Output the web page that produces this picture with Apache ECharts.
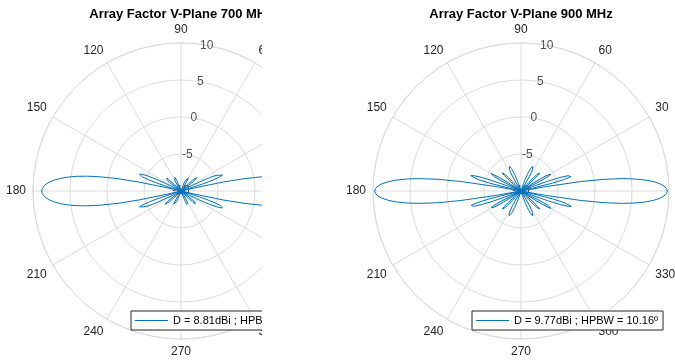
<!DOCTYPE html>
<html>
<head>
<meta charset="utf-8">
<script src="https://cdn.jsdelivr.net/npm/echarts@6/dist/echarts.min.js"></script>
<style>
  html, body { margin: 0; padding: 0; background: #ffffff; }
  #chart { width: 675px; height: 363px; }
</style>
</head>
<body>
<div id="chart"></div>
<script>
// Elevation angles (deg) of one quadrant, 0 = broadside
const quadrantAngles = [
  0, 1, 2, 3, 4, 5, 6, 7, 8, 9, 10, 11, 12, 13, 14, 15, 16, 17, 18, 19,
  20, 21, 22, 23, 24, 25, 26, 27, 28, 29, 30, 31, 32, 33, 34, 35, 36, 37, 38, 39,
  40, 41, 42, 43, 44, 45, 46, 47, 48, 49, 50, 51, 52, 53, 54, 55, 56, 57, 58, 59,
  60, 61, 62, 63, 64, 65, 66, 67, 68, 69, 70, 71, 72, 73, 74, 75, 76, 77, 78, 79,
  80, 81, 82, 83, 84, 85, 86, 87, 88, 89, 90
];

// Gain (dBi) at 700 MHz, floor of the radial axis is -10
const gain700 = [
  8.81, 8.75, 8.55, 8.22, 7.75, 7.14, 6.37, 5.42, 4.24, 2.8,
  1.0, -1.2, -4.1, -8.1, -10, -10, -10, -9.5, -6.9, -5.4,
  -4.45, -4.0, -3.95, -4.2, -4.8, -5.7, -7.0, -8.8, -10, -10,
  -10, -10, -10, -10, -10, -10, -9.2, -8.3, -7.7, -7.35,
  -7.2, -7.2, -7.4, -7.9, -8.6, -9.5, -10, -10, -10, -10,
  -10, -10, -10, -10, -10, -10, -10, -10, -9.3, -8.7,
  -8.3, -8.0, -7.85, -7.8, -7.8, -7.85, -8.0, -8.2, -8.5, -8.9,
  -9.4, -10, -10, -10, -10, -10, -10, -10, -10, -10,
  -10, -10, -10, -10, -10, -10, -10, -10, -10, -10, -10
];

// Gain (dBi) at 900 MHz
const gain900 = [
  9.77, 9.66, 9.34, 8.79, 7.99, 6.92, 5.52, 3.72, 1.37, -1.84,
  -6.6, -10, -10, -9.1, -5.6, -3.9, -3.0, -2.9, -3.3, -4.3,
  -6.0, -8.5, -10, -10, -10, -10, -9.8, -7.4, -6.0, -5.4,
  -5.3, -5.7, -6.6, -8.0, -9.9, -10, -10, -10, -10, -10,
  -10, -8.8, -7.6, -6.9, -6.5, -6.6, -6.9, -7.6, -8.8, -10,
  -10, -10, -10, -10, -10, -10, -10, -10, -9.9, -8.6,
  -7.7, -7.1, -6.7, -6.45, -6.3, -6.3, -6.4, -6.7, -7.1, -7.6,
  -8.3, -8.9, -9.7, -10, -10, -10, -10, -10, -10, -10,
  -10, -10, -10, -10, -10, -10, -10, -10, -10, -10, -10
];

const titles = ['Array Factor V-Plane 700 MHz', 'Array Factor V-Plane 900 MHz'];
const legendTexts = ['D = 8.81dBi ; HPBW = 13.06º', 'D = 9.77dBi ; HPBW = 10.16º'];
const ringValues = [10, 5, 0, -5, -10];
const ringLabelAngle = 80;

const FONT = '"Liberation Sans", Arial, Helvetica, sans-serif';
const LINE_COLOR = '#0072BD';
const GRID_COLOR = '#dcdcdc';
const TEXT_COLOR = '#262626';

// The pattern is symmetric about both axes: unfold the quadrant to 0..360
function unfold(values) {
  const pts = [];
  const n = quadrantAngles.length;
  for (let i = 0; i < n; i++) pts.push([values[i], quadrantAngles[i]]);
  for (let i = n - 2; i >= 0; i--) pts.push([values[i], 180 - quadrantAngles[i]]);
  for (let i = 1; i < n; i++) pts.push([values[i], 180 + quadrantAngles[i]]);
  for (let i = n - 2; i >= 0; i--) pts.push([values[i], 360 - quadrantAngles[i]]);
  return pts;
}

const centers = [[181, 191], [521, 191]];
const patterns = [gain700, gain900];

function polarAxes(idx) {
  return {
    angle: {
      polarIndex: idx, type: 'value', min: 0, max: 360, interval: 30,
      startAngle: 0, clockwise: false,
      axisLine: { show: true, lineStyle: { color: GRID_COLOR, width: 1 } },
      axisTick: { show: false },
      splitLine: { show: true, lineStyle: { color: GRID_COLOR, width: 1 } },
      axisLabel: {
        show: true, margin: 7, fontSize: 12, color: TEXT_COLOR, fontFamily: FONT,
        formatter: v => (v === 360 ? '' : String(v))
      }
    },
    radius: {
      polarIndex: idx, type: 'value', min: -10, max: 10, interval: 5,
      axisLine: { show: false }, axisTick: { show: false }, axisLabel: { show: false },
      splitLine: { show: true, lineStyle: { color: GRID_COLOR, width: 1 } }
    }
  };
}

const ax0 = polarAxes(0), ax1 = polarAxes(1);

const series = [];
patterns.forEach((p, i) => {
  series.push({
    type: 'scatter', coordinateSystem: 'polar', polarIndex: i, z: 1,
    symbolSize: 0, silent: true,
    data: ringValues.map(r => [r, ringLabelAngle]),
    label: {
      show: true, position: 'inside', fontSize: 12, color: TEXT_COLOR, fontFamily: FONT,
      formatter: d => String(d.value[0])
    }
  });
  series.push({
    name: legendTexts[i], type: 'line', coordinateSystem: 'polar', polarIndex: i, z: 2,
    symbol: 'none', showSymbol: false, smooth: false, animation: false,
    lineStyle: { color: LINE_COLOR, width: 1 }, itemStyle: { color: LINE_COLOR },
    data: unfold(p)
  });
});

const legendLefts = [131, 472];

const option = {
  animation: false,
  backgroundColor: '#ffffff',
  title: titles.map((t, i) => ({
    text: t, left: centers[i][0], top: 8, textAlign: 'center', padding: 0,
    textStyle: { fontSize: 13, fontWeight: 'bold', color: '#000000', fontFamily: FONT }
  })),
  polar: centers.map(c => ({ center: c, radius: 148 })),
  angleAxis: [ax0.angle, ax1.angle],
  radiusAxis: [ax0.radius, ax1.radius],
  legend: legendTexts.map((t, i) => ({
    data: [{ name: t, icon: 'rect' }], left: legendLefts[i], top: 311, orient: 'horizontal',
    itemWidth: 33, itemHeight: 1, padding: [3, 5, 3, 4],
    borderColor: TEXT_COLOR, borderWidth: 1, backgroundColor: '#ffffff',
    selectedMode: false,
    itemStyle: { color: LINE_COLOR },
    textStyle: { fontSize: 11, color: '#000000', fontFamily: FONT, lineHeight: 13 }
  })),
  series: series,
  graphic: [{
    type: 'rect', z: 100, silent: true,
    shape: { x: 262, y: 0, width: 84, height: 363 },
    style: { fill: '#ffffff' }
  }]
};

const chart = echarts.init(document.getElementById('chart'), null, { renderer: 'canvas' });
chart.setOption(option);
</script>
</body>
</html>
